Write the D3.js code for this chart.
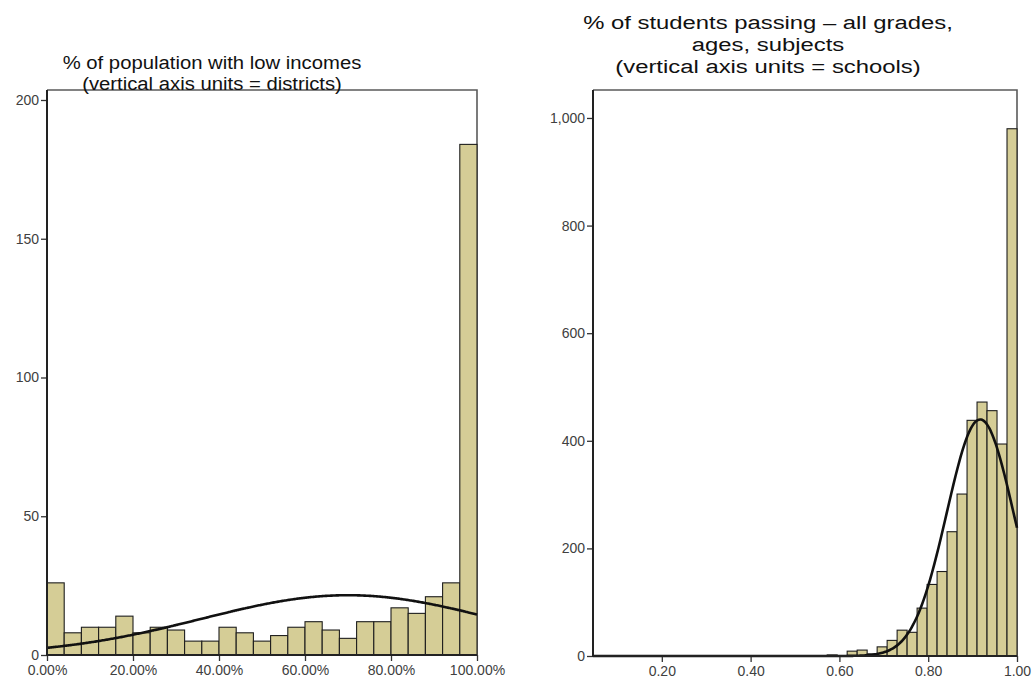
<!DOCTYPE html>
<html>
<head>
<meta charset="utf-8">
<script src="https://cdn.jsdelivr.net/npm/d3@7"></script>
<style>
  html, body { margin: 0; padding: 0; background: #fff; }
  svg { display: block; }
  .tick text { font-family: "Liberation Sans", Arial, sans-serif; font-size: 14px; fill: #404040; }
  .title { font-family: "Liberation Sans", Arial, sans-serif; font-size: 19px; fill: #111; }
</style>
</head>
<body>
<svg id="chart" width="1032" height="684"></svg>
<script>
// ---- Low-income share by district (bins of 4%) ----
const incomeBinStart = [0.00,0.04,0.08,0.12,0.16,0.20,0.24,0.28,0.32,0.36,0.40,0.44,0.48,0.52,0.56,0.60,0.64,0.68,0.72,0.76,0.80,0.84,0.88,0.92,0.96];
const incomeBinWidth = 0.04;
const incomeCounts   = [26,8,10,10,14,8,10,9,5,5,10,8,5,7,10,12,9,6,12,12,17,15,21,26,184];
const incomeYTicks   = [0,50,100,150,200];
const incomeXTicks   = [0,0.2,0.4,0.6,0.8,1.0];
const incomeFit      = { mean: 0.70, sd: 0.34, n: 459 };
const incomeTitle    = ["% of population with low incomes", "(vertical axis units = districts)"];

// ---- Share of students passing by school (bins of 0.0225) ----
const passBinStart = [0.5725,0.6175,0.64,0.6625,0.685,0.7075,0.73,0.7525,0.775,0.7975,0.82,0.8425,0.865,0.8875,0.91,0.9325,0.955,0.9775];
const passBinWidth = 0.0225;
const passCounts   = [2,9,11,4,17,29,48,44,89,133,157,231,301,438,472,456,394,980];
const passYTicks   = [0,200,400,600,800,1000];
const passXTicks   = [0.2,0.4,0.6,0.8,1.0];
const passFit      = { mean: 0.917, sd: 0.075, n: 3676 };
const passTitle    = ["% of students passing \u2013 all grades,", "ages, subjects", "(vertical axis units = schools)"];

const svg = d3.select("#chart");

function normalCurve(fit, binW, x0, x1) {
  const pts = d3.range(0, 201).map(i => x0 + (x1 - x0) * i / 200);
  return pts.map(x => [x, fit.n * binW / (fit.sd * Math.sqrt(2 * Math.PI)) *
                          Math.exp(-((x - fit.mean) ** 2) / (2 * fit.sd * fit.sd))]);
}

function panel(cfg) {
  const g = svg.append("g");
  const x = d3.scaleLinear().domain(cfg.xDomain).range([cfg.left, cfg.right]);
  const y = d3.scaleLinear().domain(cfg.yDomain).range([cfg.bottom, cfg.top]);

  // frame (top and right sides)
  g.append("path")
    .attr("d", `M${cfg.left},${cfg.top}H${cfg.right}V${cfg.bottom}`)
    .attr("fill", "none").attr("stroke", "#5a5a5a").attr("stroke-width", 1.6);

  // histogram bars
  g.selectAll("rect.bar").data(cfg.counts).join("rect")
    .attr("class", "bar")
    .attr("x", (d, i) => x(cfg.starts[i]))
    .attr("width", (d, i) => x(cfg.starts[i] + cfg.binW) - x(cfg.starts[i]))
    .attr("y", d => y(d))
    .attr("height", d => y(0) - y(d))
    .attr("fill", "#d5cd96")
    .attr("stroke", "#1e1e1e")
    .attr("stroke-width", 1.1);

  // fitted normal curve
  const line = d3.line().x(d => x(d[0])).y(d => y(d[1])).curve(d3.curveBasis);
  g.append("path")
    .datum(normalCurve(cfg.fit, cfg.binW, cfg.xDomain[0], cfg.xDomain[1]))
    .attr("d", line)
    .attr("fill", "none").attr("stroke", "#111").attr("stroke-width", 2.6);

  // axes
  const yAxis = d3.axisLeft(y).tickValues(cfg.yTicks).tickFormat(cfg.yFormat)
    .tickSizeInner(6).tickSizeOuter(0).tickPadding(2);
  const ya = g.append("g").attr("transform", `translate(${cfg.left},0)`).call(yAxis);
  ya.attr("font-size", null);
  ya.select(".domain").remove();
  ya.selectAll(".tick line").attr("stroke", "#333").attr("stroke-width", 1.3);
  ya.selectAll(".tick text").attr("fill", "#404040");

  const xAxis = d3.axisBottom(x).tickValues(cfg.xTicks).tickFormat(cfg.xFormat)
    .tickSizeInner(6).tickSizeOuter(0).tickPadding(4);
  const xa = g.append("g").attr("transform", `translate(0,${cfg.bottom})`).call(xAxis);
  xa.attr("font-size", null);
  xa.select(".domain").remove();
  xa.selectAll(".tick line").attr("stroke", "#333").attr("stroke-width", 1.3);
  xa.selectAll(".tick text").attr("fill", "#404040");

  // left and bottom axis lines
  g.append("path")
    .attr("d", `M${cfg.left},${cfg.top}V${cfg.bottom}H${cfg.right}`)
    .attr("fill", "none").attr("stroke", "#222").attr("stroke-width", 2);

  // title lines, fitted to the measured width of the first line
  const t = g.append("g").attr("transform", `translate(${cfg.titleX},0)`);
  const texts = cfg.title.map((s, i) =>
    t.append("text").attr("class", "title")
      .attr("text-anchor", "middle")
      .attr("y", cfg.titleY + i * cfg.titleLead)
      .text(s));
  const w = texts[0].node().getComputedTextLength();
  const k = cfg.titleW / w;
  t.attr("transform", `translate(${cfg.titleX},0) scale(${k},1)`);
}

panel({
  left: 47, right: 477, top: 90, bottom: 655,
  xDomain: [0, 1], yDomain: [0, 203.6],
  starts: incomeBinStart, binW: incomeBinWidth, counts: incomeCounts,
  fit: incomeFit, yTicks: incomeYTicks, xTicks: incomeXTicks,
  yFormat: d3.format("d"), xFormat: d3.format(".2%"),
  title: incomeTitle, titleX: 212, titleY: 69, titleLead: 21, titleW: 299
});

panel({
  left: 593, right: 1017, top: 90, bottom: 656,
  xDomain: [0.045, 1.0], yDomain: [0, 1052],
  starts: passBinStart, binW: passBinWidth, counts: passCounts,
  fit: passFit, yTicks: passYTicks, xTicks: passXTicks,
  yFormat: d3.format(","), xFormat: d3.format(".2f"),
  title: passTitle, titleX: 768, titleY: 29, titleLead: 22, titleW: 370
});
</script>
</body>
</html>
